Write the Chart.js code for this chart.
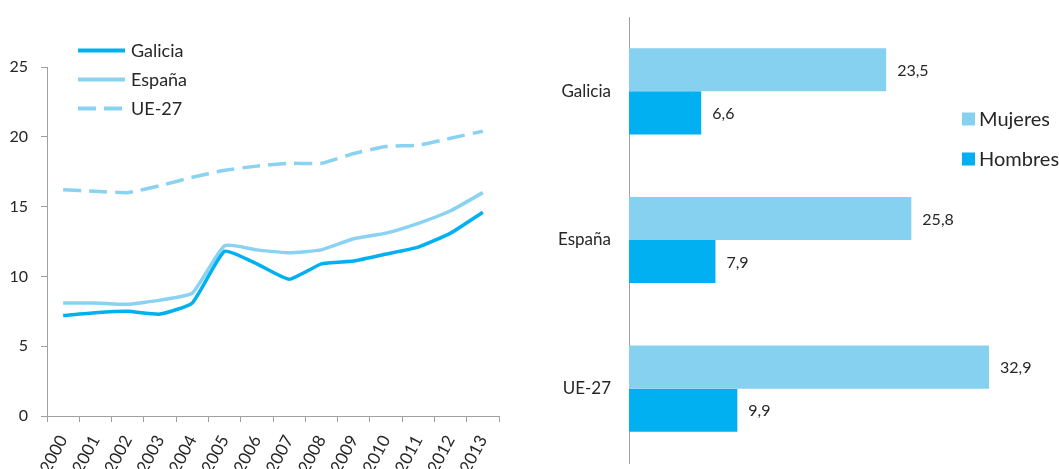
<!DOCTYPE html>
<html>
<head>
<meta charset="utf-8">
<script src="https://cdn.jsdelivr.net/npm/chart.js@4.4.1/dist/chart.umd.min.js"></script>
<style>
  body { margin: 0; background: #fff; }
  #wrap { position: relative; width: 1059px; height: 469px; }
  #left { position: absolute; left: 0; top: 0; }
  #right { position: absolute; left: 540px; top: 0; }
</style>
</head>
<body>
<div id="wrap">
  <canvas id="left" width="530" height="469"></canvas>
  <canvas id="right" width="519" height="469"></canvas>
</div>
<script>
// datos de la serie temporal
const years = ['2000','2001','2002','2003','2004','2005','2006','2007','2008','2009','2010','2011','2012','2013'];
const galicia = [7.2, 7.4, 7.5, 7.3, 8.1, 11.8, 10.9, 9.8, 10.9, 11.1, 11.6, 12.1, 13.1, 14.6];
const espana = [8.1, 8.1, 8.0, 8.3, 8.8, 12.2, 11.9, 11.7, 11.9, 12.7, 13.1, 13.8, 14.7, 16.0];
const ue27 = [16.2, 16.1, 16.0, 16.5, 17.1, 17.6, 17.9, 18.1, 18.1, 18.8, 19.3, 19.4, 19.9, 20.4];
const yTicks = [0, 5, 10, 15, 20, 25];

// datos por sexo
const regions = ['Galicia', 'España', 'UE-27'];
const mujeres = [23.5, 25.8, 32.9];
const hombres = [6.6, 7.9, 9.9];

const FONT = 'Lato, "Open Sans", sans-serif';
const TXT = '#262626';
const AXIS = '#a0a0a0';
const DARK = '#00b0f0';
const LIGHT = '#87d1f0';

// leyenda de la izquierda, dibujada a mano (vertical, arriba a la izquierda)
const leftLegend = {
  id: 'leftLegend',
  afterDraw(chart) {
    const ctx = chart.ctx;
    const rows = [50.5, 79.5, 108.5];
    ctx.save();
    chart.data.datasets.forEach((ds, i) => {
      ctx.beginPath();
      ctx.strokeStyle = ds.borderColor;
      ctx.lineWidth = 4;
      ctx.setLineDash(ds.borderDash || []);
      ctx.moveTo(78, rows[i]);
      ctx.lineTo(125, rows[i]);
      ctx.stroke();
      ctx.setLineDash([]);
      ctx.fillStyle = TXT;
      ctx.font = '18px ' + FONT;
      ctx.textBaseline = 'middle';
      ctx.textAlign = 'left';
      ctx.fillText(ds.label, 131, rows[i] + 1);
    });
    ctx.restore();
  }
};

new Chart(document.getElementById('left'), {
  type: 'line',
  data: {
    labels: years,
    datasets: [
      { label: 'Galicia', data: galicia, borderColor: DARK, borderWidth: 3.5, tension: 0.15, pointRadius: 0 },
      { label: 'España', data: espana, borderColor: '#8ad2f2', borderWidth: 3.5, tension: 0.15, pointRadius: 0 },
      { label: 'UE-27', data: ue27, borderColor: '#8ad2f2', borderWidth: 3.5, borderDash: [18, 8], tension: 0.15, pointRadius: 0 }
    ]
  },
  options: {
    responsive: false,
    animation: false,
    layout: { padding: { top: 67, right: 31, left: 0, bottom: 0 } },
    plugins: { legend: { display: false }, tooltip: { enabled: false } },
    scales: {
      x: {
        offset: true,
        grid: { offset: true, drawOnChartArea: false, drawTicks: true, tickLength: 6, color: AXIS },
        border: { color: AXIS },
        ticks: { color: TXT, font: { family: FONT, size: 17 }, minRotation: 62, maxRotation: 62, padding: 10 },
        afterFit(scale) { scale.height = 53; scale.paddingLeft = 0; scale.paddingRight = 0; }
      },
      y: {
        min: 0, max: 25,
        afterBuildTicks(scale) { scale.ticks = yTicks.map(v => ({ value: v })); },
        grid: { drawOnChartArea: false, drawTicks: true, tickLength: 6, color: AXIS },
        border: { color: AXIS },
        ticks: { color: TXT, font: { family: FONT, size: 16 }, padding: 13 },
        afterFit(scale) { scale.width = 47; }
      }
    }
  },
  plugins: [leftLegend]
});

// etiquetas de valor y leyenda del grafico de barras
const barExtras = {
  id: 'barExtras',
  afterDraw(chart) {
    const ctx = chart.ctx;
    ctx.save();
    ctx.fillStyle = TXT;
    ctx.font = '16px ' + FONT;
    ctx.textBaseline = 'middle';
    ctx.textAlign = 'left';
    chart.data.datasets.forEach((ds, i) => {
      chart.getDatasetMeta(i).data.forEach((bar, j) => {
        ctx.fillText(ds.data[j].toFixed(1).replace('.', ','), bar.x + 11, bar.y + 1);
      });
    });
    const rows = [119, 159];
    chart.data.datasets.forEach((ds, i) => {
      ctx.fillStyle = ds.backgroundColor;
      ctx.fillRect(422, rows[i] - 6.5, 13, 13);
      ctx.fillStyle = TXT;
      ctx.font = '20px ' + FONT;
      ctx.fillText(ds.label, 439, rows[i] + 1);
    });
    ctx.restore();
  }
};

new Chart(document.getElementById('right'), {
  type: 'bar',
  data: {
    labels: regions,
    datasets: [
      { label: 'Mujeres', data: mujeres, backgroundColor: LIGHT },
      { label: 'Hombres', data: hombres, backgroundColor: DARK }
    ]
  },
  options: {
    indexAxis: 'y',
    responsive: false,
    animation: false,
    barPercentage: 1,
    categoryPercentage: 0.58,
    layout: { padding: { top: 17, right: 47, left: 0, bottom: 6 } },
    plugins: { legend: { display: false }, tooltip: { enabled: false } },
    scales: {
      x: { display: false, min: 0, max: 35 },
      y: {
        grid: { display: false, drawTicks: false },
        border: { color: AXIS },
        ticks: { color: TXT, font: { family: FONT, size: 17 }, padding: 18 },
        afterFit(scale) { scale.width = 89; scale.paddingTop = 0; scale.paddingBottom = 0; }
      }
    }
  },
  plugins: [barExtras]
});
</script>
</body>
</html>
